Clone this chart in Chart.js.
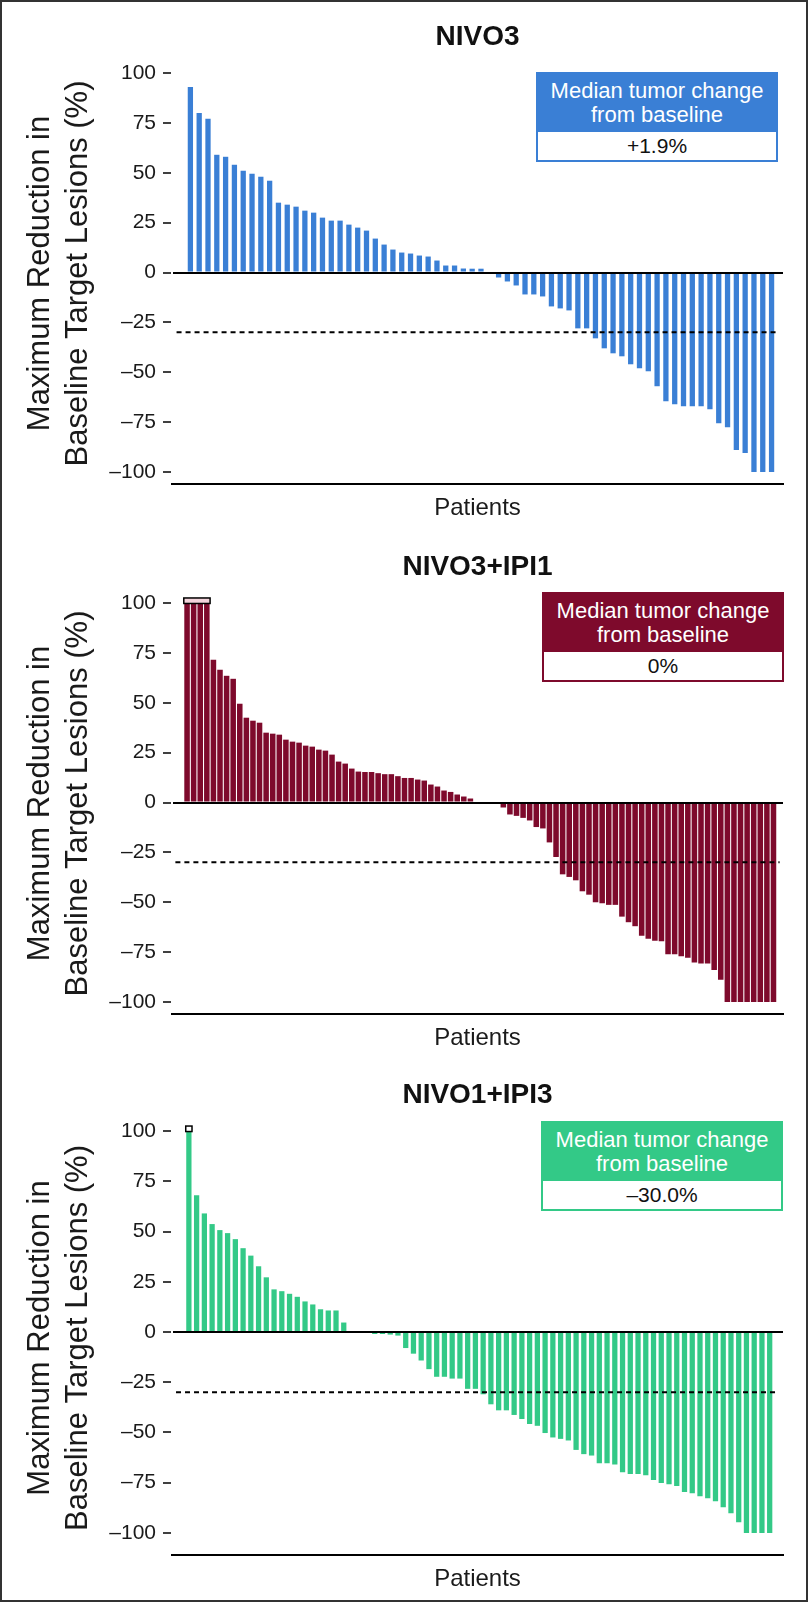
<!DOCTYPE html>
<html lang="en">
<head>
<meta charset="UTF-8">
<title>Maximum reduction in target lesions</title>
<style>
  body { margin: 0; background: #fff; font-family: "Liberation Sans", Arial, sans-serif; }
  .frame { position: absolute; left: 0; top: 0; width: 808px; height: 1602px; box-sizing: border-box; border: 2px solid #333; pointer-events: none; z-index: 5; }
  canvas { position: absolute; left: 0; }
  .median { position: absolute; width: 242px; height: 90px; box-sizing: border-box; border: 2px solid; background: #fff; text-align: center; color: #111; z-index: 3; }
  .median .head { height: 58px; color: #fff; font-size: 22px; line-height: 24px; padding-top: 5px; box-sizing: border-box; }
  .median .val { font-size: 21px; line-height: 28px; }
</style>
</head>
<body>

<canvas id="c1" width="808" height="530" style="top:0px"></canvas>
<canvas id="c2" width="808" height="530" style="top:530px"></canvas>
<canvas id="c3" width="808" height="543" style="top:1058px"></canvas>

<div class="median" id="m1" style="left:536px; top:72px;"><div class="head"></div><div class="val"></div></div>
<div class="median" id="m2" style="left:542px; top:592px;"><div class="head"></div><div class="val"></div></div>
<div class="median" id="m3" style="left:541px; top:1121px;"><div class="head"></div><div class="val"></div></div>

<div class="frame"></div>

<script src="https://cdn.jsdelivr.net/npm/chart.js"></script>
<script>
  // values, sorted as in the waterfall
  const nivo3Values = [
    93, 80, 77, 59, 58, 54, 51, 49.5, 48, 46, 35, 34, 33, 31, 30, 27.5, 26, 26, 24, 22.5,
    21, 17, 14, 11.5, 10, 9.5, 8.5, 8, 6, 3.5, 3.5, 2, 1.9, 1.9,
    0,
    -2.5, -4.5, -6.5, -11, -11, -12, -17, -18, -19, -28, -28, -33, -38, -40.5, -42, -46,
    -48, -49.5, -57, -64.5, -66, -67, -67, -67, -68.5, -75.5, -77.5, -89, -90.5, -100, -100, -100
  ];
  const nivo3Ipi1Values = [
    100, 100, 100, 100, 71.5, 66.5, 63.5, 62, 49.5, 42.5, 41, 40, 35, 34.5, 34, 31.5, 30.5, 30,
    28.5, 28, 26.5, 26, 24, 20.5, 19.5, 17, 15.5, 15.3, 15.3, 14.7, 14.2, 14.2, 13.2, 12.3, 12.3,
    11.5, 11, 9, 8, 6, 5.3, 4, 3, 2,
    0, 0, 0, 0,
    -2.5, -6, -6.7, -7.7, -9, -12.3, -13, -20, -27.3, -36, -37.3, -39, -44.5, -46.2, -50, -50.5,
    -51.3, -51.3, -57.2, -60, -62, -66.8, -68.3, -69.3, -69.5, -76, -76, -77, -77.8, -80.2, -80.7,
    -80.7, -84, -88.8, -100, -100, -100, -100, -100, -100, -100, -100
  ];
  const nivo1Ipi3Values = [
    100, 68, 59, 53.7, 50.7, 49.2, 46.2, 41.7, 38, 32.7, 27.2, 21.2, 20.3, 19, 17.5, 15.2, 13.7,
    11.3, 10.7, 10.7, 4.7,
    0, 0, 0,
    -1, -1, -1.3, -1.8, -8, -10.8, -14.2, -18.5, -22.3, -22.3, -23.2, -23.2, -28.3, -28.3, -31,
    -36, -39, -39, -41.3, -43.3, -45.8, -46.7, -50.3, -52.5, -53.2, -54, -58.7, -60.8, -61.5,
    -65.3, -65.3, -66, -69.8, -70.7, -70.7, -71.3, -73.7, -75.2, -75.8, -76.7, -79.7, -80.3,
    -81.8, -82.7, -84.2, -87.2, -90.2, -94.7, -100, -100, -100, -100
  ];

  // bars whose change went past the top of the axis (marked with a small box)
  const nivo3Capped = [];
  const nivo3Ipi1Capped = [0, 1, 2, 3];
  const nivo1Ipi3Capped = [0];

  const yTickValues = [100, 75, 50, 25, 0, -25, -50, -75, -100];
  const responseThreshold = -30;

  const panelTitles = ['NIVO3', 'NIVO3+IPI1', 'NIVO1+IPI3'];
  const medianLabels = ['+1.9%', '0%', '–30.0%'];
  const medianHeading = ['Median tumor change', 'from baseline'];
  const yAxisTitle = ['Maximum Reduction in', 'Baseline Target Lesions (%)'];
  const xAxisTitle = 'Patients';

  const colors = ['#3a7fd5', '#7e0a2c', '#33c987'];

  Chart.defaults.font.family = '"Liberation Sans", Arial, sans-serif';
  Chart.defaults.color = '#1a1a1a';

  const capMarks = {
    id: 'capMarks',
    afterDatasetsDraw(chart, args, opts) {
      const idx = opts.indices || [];
      if (!idx.length) return;
      const meta = chart.getDatasetMeta(0);
      const first = meta.data[idx[0]];
      const last = meta.data[idx[idx.length - 1]];
      const l = first.x - first.width / 2 - 0.5;
      const r = last.x + last.width / 2 + 0.5;
      const top = Math.min(...idx.map(i => meta.data[i].y));
      const ctx = chart.ctx;
      ctx.save();
      ctx.fillStyle = opts.fill || '#fff';
      ctx.strokeStyle = '#000';
      ctx.lineWidth = 1.5;
      ctx.fillRect(l, top - 5, r - l, 5.5);
      ctx.strokeRect(l, top - 5, r - l, 5.5);
      ctx.restore();
    }
  };

  function makePanel(canvasId, title, values, capped, color, xMin, xMax, yMin, yMax, barPct, capFill) {
    const bars = values.map((v, i) => ({ x: i + 1, y: v }));
    return new Chart(document.getElementById(canvasId), {
      type: 'bar',
      data: {
        datasets: [
          {
            type: 'bar',
            data: bars,
            backgroundColor: color,
            borderWidth: 0,
            barPercentage: barPct,
            categoryPercentage: 1,
            order: 1
          },
          {
            type: 'line',
            data: [{ x: xMin, y: responseThreshold }, { x: xMax, y: responseThreshold }],
            borderColor: '#000',
            borderWidth: 2,
            borderDash: [5, 4],
            pointRadius: 0,
            order: 0
          }
        ]
      },
      plugins: [capMarks],
      options: {
        responsive: false,
        animation: false,
        devicePixelRatio: 1,
        layout: { autoPadding: false, padding: { left: 0, right: 25, top: 0, bottom: 0 } },
        plugins: {
          legend: { display: false },
          tooltip: { enabled: false },
          title: {
            display: true,
            text: title,
            fullSize: false,
            color: '#111',
            font: { size: 28, weight: 'bold', lineHeight: 1.2 },
            padding: { top: 20, bottom: 9.4 }
          },
          capMarks: { indices: capped, fill: capFill }
        },
        scales: {
          x: {
            type: 'linear',
            min: xMin,
            max: xMax,
            afterBuildTicks: s => { s.ticks = values.map((v, i) => ({ value: i + 1 })); },
            afterFit: s => { s.height = 46; },
            ticks: { display: false },
            grid: { display: false, drawTicks: false },
            border: { display: true, color: '#000', width: 2 },
            title: {
              display: true,
              text: xAxisTitle,
              color: '#1a1a1a',
              font: { size: 24, lineHeight: 1.2 },
              padding: { top: 10, bottom: 7 }
            }
          },
          y: {
            min: yMin,
            max: yMax,
            afterBuildTicks: s => { s.ticks = yTickValues.map(v => ({ value: v })); },
            afterFit: s => { s.width = 172; },
            ticks: {
              color: '#1a1a1a',
              font: { size: 21 },
              padding: 7,
              callback: v => v < 0 ? '–' + Math.abs(v) : String(v)
            },
            grid: {
              z: 1,
              color: c => (c.tick && c.tick.value === 0) ? '#000' : 'rgba(0,0,0,0)',
              lineWidth: 2,
              drawTicks: true,
              tickLength: 9,
              tickColor: '#000',
              tickWidth: 1.5
            },
            border: { display: true, color: '#000', width: 2 },
            title: {
              display: true,
              text: yAxisTitle,
              color: '#1a1a1a',
              font: { size: 31, lineHeight: '38px' },
              padding: { top: 21, bottom: 0 }
            }
          }
        }
      }
    });
  }

  makePanel('c1', panelTitles[0], nivo3Values, nivo3Capped, colors[0], -0.57, 67.78, -106, 105, 0.6, '#fff');
  makePanel('c2', panelTitles[1], nivo3Ipi1Values, nivo3Ipi1Capped, colors[1], -0.77, 90.93, -106, 105, 0.84, '#f3d3db');
  makePanel('c3', panelTitles[2], nivo1Ipi3Values, nivo1Ipi3Capped, colors[2], -0.66, 77.2, -111, 105, 0.68, '#fff');

  ['m1', 'm2', 'm3'].forEach((id, i) => {
    const box = document.getElementById(id);
    box.style.borderColor = colors[i];
    const head = box.querySelector('.head');
    head.style.background = colors[i];
    head.innerHTML = medianHeading.join('<br>');
    box.querySelector('.val').textContent = medianLabels[i];
  });
</script>
</body>
</html>
